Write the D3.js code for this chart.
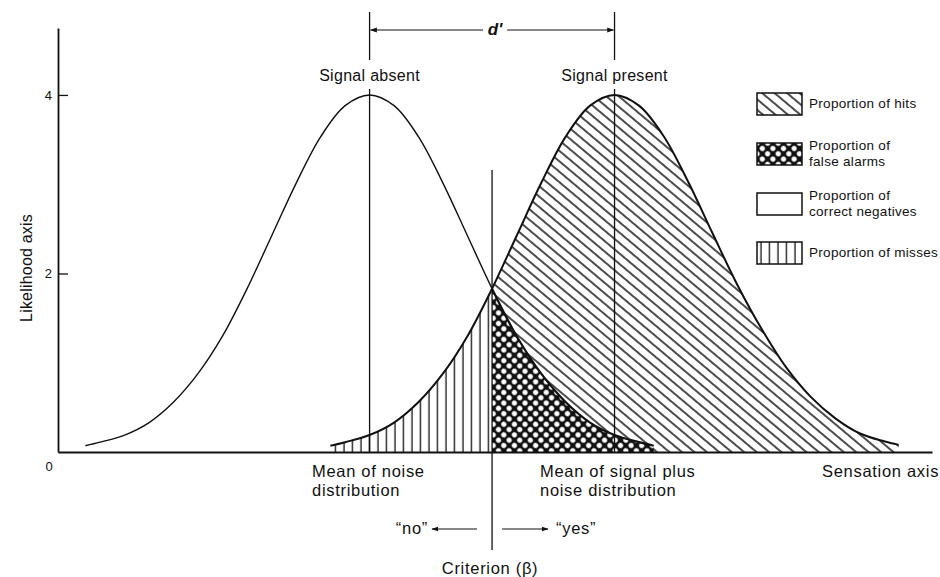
<!DOCTYPE html>
<html>
<head>
<meta charset="utf-8">
<script src="https://cdn.jsdelivr.net/npm/d3@7"></script>
<style>
  body { margin: 0; background: #fff; }
  svg text { font-family: "Liberation Sans", Arial, sans-serif; fill: #111; }
</style>
</head>
<body>
<div id="chart"></div>
<script>
// offsets from each distribution's mean (in sd units) and heights
const offsets = [-2.9, -2.75, -2.5, -2.25, -2, -1.75, -1.5, -1.25, -1, -0.75, -0.5, -0.25, 0,
                 0.25, 0.5, 0.75, 1, 1.25, 1.5, 1.75, 2, 2.25, 2.5, 2.75, 2.9];
const noiseY  = [0.07, 0.11, 0.19, 0.33, 0.56, 0.88, 1.30, 1.83, 2.42, 3.01, 3.53, 3.88, 4.0,
                 3.88, 3.53, 3.01, 2.42, 1.83, 1.30, 0.88, 0.56, 0.33, 0.19, 0.11, 0.07];
const signalY = [0.07, 0.11, 0.19, 0.33, 0.56, 0.88, 1.30, 1.83, 2.42, 3.01, 3.53, 3.88, 4.0,
                 3.88, 3.54, 3.03, 2.45, 1.88, 1.38, 0.95, 0.62, 0.38, 0.21, 0.12, 0.08];
const means     = [0, 2.5];
const meanNames = ["Signal absent", "Signal present"];
const criterion = 1.25;
const yTicks    = [2, 4];
const legendPatterns = ["hits", "fa", "none", "misses"];
const legendLines = [
  ["Proportion of hits"],
  ["Proportion of", "false alarms"],
  ["Proportion of", "correct negatives"],
  ["Proportion of misses"]
];

var width = 940, height = 577;

var x = d3.scaleLinear().domain([-3.18, 5.74]).range([58, 932]);
var y = d3.scaleLinear().domain([0, 4.75]).range([452, 28]);

var noise  = offsets.map((o, i) => ({x: means[0] + o, y: noiseY[i]}));
var signal = offsets.map((o, i) => ({x: means[1] + o, y: signalY[i]}));

var svg = d3.select("#chart").append("svg")
  .attr("width", width)
  .attr("height", height);

var defs = svg.append("defs");

// diagonal hatch for hits
defs.append("pattern")
  .attr("id", "hits").attr("patternUnits", "userSpaceOnUse")
  .attr("width", 8).attr("height", 8)
  .attr("patternTransform", "rotate(40)")
  .append("line")
  .attr("x1", 0).attr("y1", 4).attr("x2", 8).attr("y2", 4)
  .attr("stroke", "#111").attr("stroke-width", 1.5);

// vertical lines for misses
defs.append("pattern")
  .attr("id", "misses").attr("patternUnits", "userSpaceOnUse")
  .attr("width", 8.5).attr("height", 10)
  .append("line")
  .attr("x1", 4).attr("y1", 0).attr("x2", 4).attr("y2", 10)
  .attr("stroke", "#111").attr("stroke-width", 1.3);

// cross hatch for false alarms
var fa = defs.append("pattern")
  .attr("id", "fa").attr("patternUnits", "userSpaceOnUse")
  .attr("width", 7.5).attr("height", 7.5)
  .attr("patternTransform", "rotate(45)");
fa.append("rect").attr("width", 7.5).attr("height", 7.5).attr("fill", "#111");
fa.append("circle").attr("cx", 3.75).attr("cy", 3.75).attr("r", 2.6).attr("fill", "#fff");

// arrow heads
defs.append("marker")
  .attr("id", "arrow").attr("viewBox", "0 0 10 10")
  .attr("refX", 9).attr("refY", 5)
  .attr("markerWidth", 7).attr("markerHeight", 7)
  .attr("markerUnits", "userSpaceOnUse")
  .attr("orient", "auto-start-reverse")
  .append("path").attr("d", "M0,1.5L10,5L0,8.5Z").attr("fill", "#111");

var xc = x(criterion);
defs.append("clipPath").attr("id", "leftClip")
  .append("rect").attr("x", 0).attr("y", 0).attr("width", xc).attr("height", height);
defs.append("clipPath").attr("id", "rightClip")
  .append("rect").attr("x", xc).attr("y", 0).attr("width", width - xc).attr("height", height);

var area = d3.area()
  .x(d => x(d.x))
  .y0(y(0))
  .y1(d => y(d.y))
  .curve(d3.curveCatmullRom);

var line = d3.line()
  .x(d => x(d.x))
  .y(d => y(d.y))
  .curve(d3.curveCatmullRom);

// shaded regions
svg.append("path").datum(signal)
  .attr("d", area).attr("fill", "url(#hits)").attr("clip-path", "url(#rightClip)");
svg.append("path").datum(noise)
  .attr("d", area).attr("fill", "url(#fa)").attr("clip-path", "url(#rightClip)");
svg.append("path").datum(signal)
  .attr("d", area).attr("fill", "url(#misses)").attr("clip-path", "url(#leftClip)");

// curves
svg.append("path").datum(noise)
  .attr("d", line).attr("fill", "none").attr("stroke", "#111")
  .attr("stroke-width", 1.4).attr("clip-path", "url(#leftClip)");
svg.append("path").datum(noise)
  .attr("d", line).attr("fill", "none").attr("stroke", "#111")
  .attr("stroke-width", 2.2).attr("clip-path", "url(#rightClip)");
svg.append("path").datum(signal)
  .attr("d", line).attr("fill", "none").attr("stroke", "#111")
  .attr("stroke-width", 2);

// mean lines
means.forEach(function(m, i) {
  svg.append("line")
    .attr("x1", x(m)).attr("x2", x(m))
    .attr("y1", y(4) - 6).attr("y2", y(0))
    .attr("stroke", "#111").attr("stroke-width", 1.3);
  svg.append("line")
    .attr("x1", x(m)).attr("x2", x(m))
    .attr("y1", 12).attr("y2", 60)
    .attr("stroke", "#111").attr("stroke-width", 1.3);
  svg.append("text")
    .attr("x", x(m)).attr("y", 81)
    .attr("text-anchor", "middle")
    .style("font-size", "16px").style("letter-spacing", "0.3px")
    .text(meanNames[i]);
});

// d' arrow
var dmid = (x(means[0]) + x(means[1])) / 2 + 3;
svg.append("line")
  .attr("x1", dmid - 12).attr("x2", x(means[0]) + 1)
  .attr("y1", 30).attr("y2", 30)
  .attr("stroke", "#111").attr("stroke-width", 1)
  .attr("marker-end", "url(#arrow)");
svg.append("line")
  .attr("x1", dmid + 12).attr("x2", x(means[1]) - 1)
  .attr("y1", 30).attr("y2", 30)
  .attr("stroke", "#111").attr("stroke-width", 1)
  .attr("marker-end", "url(#arrow)");
svg.append("text")
  .attr("x", dmid).attr("y", 35)
  .attr("text-anchor", "middle")
  .style("font-size", "17px").style("font-style", "italic").style("font-weight", "bold")
  .text("d'");

// criterion line
svg.append("line")
  .attr("x1", xc).attr("x2", xc)
  .attr("y1", y(3.16)).attr("y2", 550)
  .attr("stroke", "#111").attr("stroke-width", 1.3);

// axes
var yAxis = svg.append("g")
  .attr("transform", "translate(" + x.range()[0] + ",0)")
  .call(d3.axisLeft(y).tickValues(yTicks).tickSize(-10).tickSizeOuter(0).tickPadding(6).tickFormat(d3.format("d")));
yAxis.select(".domain").attr("stroke", "#111").attr("stroke-width", 1.8);
yAxis.selectAll(".tick line").attr("stroke", "#111").attr("stroke-width", 1.3);
yAxis.selectAll(".tick text").style("font-size", "13px").attr("fill", "#111")
  .style("font-family", "'Liberation Sans', Arial, sans-serif");

var xAxis = svg.append("g")
  .attr("transform", "translate(0," + y(0) + ")")
  .call(d3.axisBottom(x).tickValues([]).tickSizeOuter(0));
xAxis.select(".domain").attr("stroke", "#111").attr("stroke-width", 1.8);

svg.append("text")
  .attr("x", x.range()[0] - 9).attr("y", y(0) + 19)
  .attr("text-anchor", "middle")
  .style("font-size", "13px")
  .text("0");

svg.append("text")
  .attr("transform", "translate(32,268) rotate(-90)")
  .attr("text-anchor", "middle")
  .style("font-size", "16px").style("letter-spacing", "0.2px")
  .text("Likelihood axis");

// bottom labels
var bottom = svg.append("g").style("font-size", "16.5px").style("letter-spacing", "0.7px");
bottom.append("text").attr("x", 312).attr("y", 477).text("Mean of noise");
bottom.append("text").attr("x", 312).attr("y", 496).text("distribution");
bottom.append("text").attr("x", 540).attr("y", 477).text("Mean of signal plus");
bottom.append("text").attr("x", 540).attr("y", 496).text("noise distribution");
bottom.append("text").attr("x", 822).attr("y", 477).text("Sensation axis");
bottom.append("text").attr("x", 428).attr("y", 534).attr("text-anchor", "end").text("\u201Cno\u201D");
bottom.append("text").attr("x", 556).attr("y", 534).text("\u201Cyes\u201D");
bottom.append("text").attr("x", xc - 2).attr("y", 574).attr("text-anchor", "middle").text("Criterion (\u03B2)");

svg.append("line")
  .attr("x1", xc - 15).attr("x2", 432).attr("y1", 529).attr("y2", 529)
  .attr("stroke", "#111").attr("stroke-width", 1.1).attr("marker-end", "url(#arrow)");
svg.append("line")
  .attr("x1", xc + 10).attr("x2", 548).attr("y1", 529).attr("y2", 529)
  .attr("stroke", "#111").attr("stroke-width", 1.1).attr("marker-end", "url(#arrow)");

// legend
var legendTop = [93, 143, 193, 242];
var legend = svg.append("g").attr("transform", "translate(757,0)");
legendPatterns.forEach(function(p, i) {
  legend.append("rect")
    .attr("x", 0).attr("y", legendTop[i])
    .attr("width", 45).attr("height", 22)
    .attr("fill", p === "none" ? "#fff" : "url(#" + p + ")")
    .attr("stroke", "#111").attr("stroke-width", 1.5);
  var lines = legendLines[i];
  lines.forEach(function(t, j) {
    var base = lines.length === 1 ? legendTop[i] + 15 : legendTop[i] + 7 + j * 16;
    legend.append("text")
      .attr("x", 52).attr("y", base)
      .style("font-size", "13.5px").style("letter-spacing", "0.3px")
      .text(t);
  });
});
</script>
</body>
</html>
